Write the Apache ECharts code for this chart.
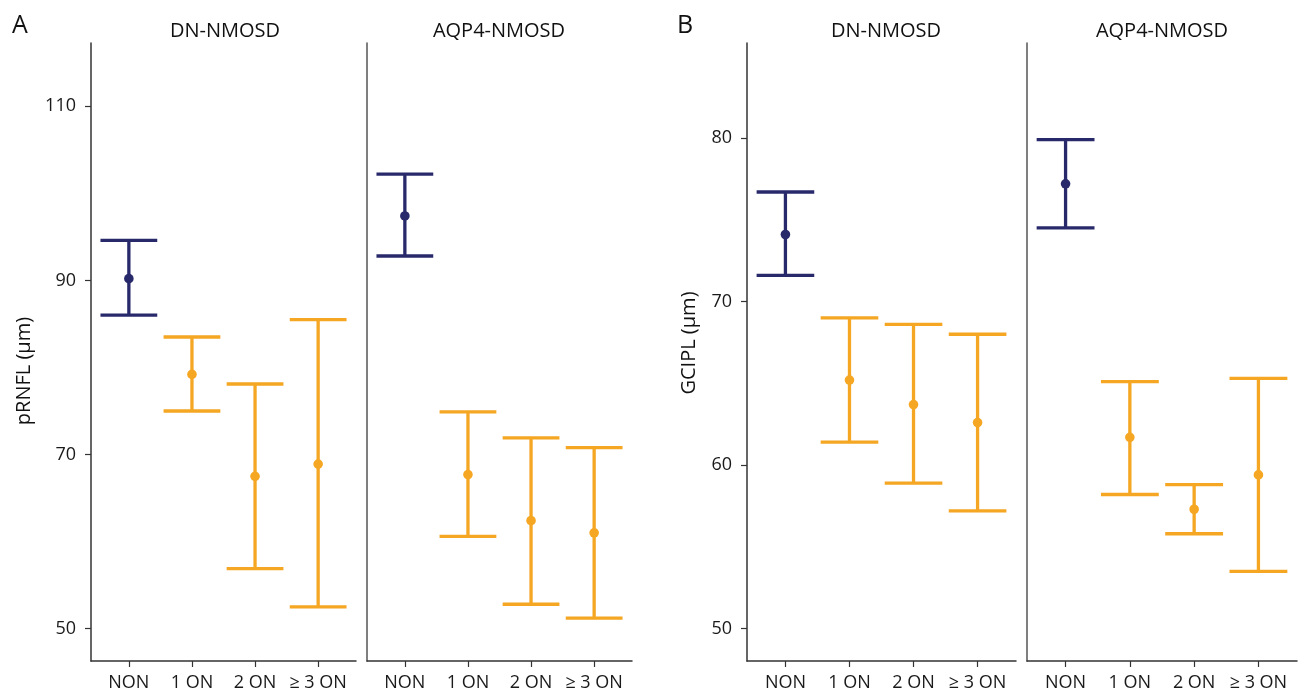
<!DOCTYPE html>
<html>
<head>
<meta charset="utf-8">
<script src="https://cdn.jsdelivr.net/npm/echarts@6/dist/echarts.min.js"></script>
<style>html,body{margin:0;padding:0;background:#fff;}#c{width:1300px;height:692px;}</style>
</head>
<body>
<div id="c"></div>
<script>
// ---- data ----
const categories = ['NON', '1 ON', '2 ON', '\u2265 3 ON'];
const facetNames = ['DN-NMOSD', 'AQP4-NMOSD'];
const yTicksA = [50, 70, 90, 110];
const yTicksB = [50, 60, 70, 80];

const A_DN_mean   = [90.2, 79.2, 67.5, 68.9];
const A_DN_lower  = [86.0, 75.0, 56.9, 52.5];
const A_DN_upper  = [94.6, 83.5, 78.1, 85.5];
const A_AQP4_mean  = [97.4, 67.7, 62.4, 61.0];
const A_AQP4_lower = [92.8, 60.6, 52.8, 51.2];
const A_AQP4_upper = [102.2, 74.9, 71.9, 70.8];

const B_DN_mean   = [74.1, 65.2, 63.7, 62.6];
const B_DN_lower  = [71.6, 61.4, 58.9, 57.2];
const B_DN_upper  = [76.7, 69.0, 68.6, 68.0];
const B_AQP4_mean  = [77.2, 61.7, 57.3, 59.4];
const B_AQP4_lower = [74.5, 58.2, 55.8, 53.5];
const B_AQP4_upper = [79.9, 65.1, 58.8, 65.3];

// ---- styling ----
const COLORS = ['#28296b', '#f5a623'];
const FONT = '"Open Sans", "Noto Sans", sans-serif';
const AXIS_COLOR = '#333';
const CAP_HALF = 0.45;

const grids = [
  {left: 91, top: 43, width: 265, height: 618},
  {left: 367, top: 43, width: 265, height: 618},
  {left: 747, top: 43, width: 269, height: 618},
  {left: 1027, top: 43, width: 270, height: 618}
];
const yRanges = [[46.28, 117.27], [46.28, 117.27], [48.02, 85.81], [48.02, 85.81]];
const yTickSets = [yTicksA, yTicksA, yTicksB, yTicksB];

function buildData(mean, lower, upper) {
  return categories.map((c, i) => [i, mean[i], lower[i], upper[i], i === 0 ? 0 : 1]);
}
const seriesData = [
  buildData(A_DN_mean, A_DN_lower, A_DN_upper),
  buildData(A_AQP4_mean, A_AQP4_lower, A_AQP4_upper),
  buildData(B_DN_mean, B_DN_lower, B_DN_upper),
  buildData(B_AQP4_mean, B_AQP4_lower, B_AQP4_upper)
];

function renderItem(params, api) {
  const x = api.value(0), m = api.value(1), lo = api.value(2), hi = api.value(3);
  const color = COLORS[api.value(4)];
  const pLo = api.coord([x, lo]);
  const pHi = api.coord([x, hi]);
  const pM = api.coord([x, m]);
  const xl = api.coord([x - CAP_HALF, lo])[0];
  const xr = api.coord([x + CAP_HALF, lo])[0];
  const st = {stroke: color, lineWidth: 3.3, fill: null};
  return {
    type: 'group',
    children: [
      {type: 'line', shape: {x1: pLo[0], y1: pLo[1], x2: pHi[0], y2: pHi[1]}, style: st},
      {type: 'line', shape: {x1: xl, y1: pHi[1], x2: xr, y2: pHi[1]}, style: st},
      {type: 'line', shape: {x1: xl, y1: pLo[1], x2: xr, y2: pLo[1]}, style: st},
      {type: 'circle', shape: {cx: pM[0], cy: pM[1], r: 4.8}, style: {fill: color}}
    ]
  };
}

const xAxes = grids.map((g, i) => ({
  type: 'value', gridIndex: i, min: -0.6, max: 3.6,
  axisLine: {show: true, onZero: false, lineStyle: {color: AXIS_COLOR, width: 1.5}},
  axisTick: {show: true, length: 6, customValues: [0, 1, 2, 3], lineStyle: {color: AXIS_COLOR, width: 1.2}},
  axisLabel: {show: true, customValues: [0, 1, 2, 3], margin: 13,
    formatter: v => categories[Math.round(v)] || '',
    fontFamily: FONT, fontSize: 18, color: '#1a1a1a'},
  splitLine: {show: false}
}));

const yAxes = grids.map((g, i) => ({
  type: 'value', gridIndex: i, min: yRanges[i][0], max: yRanges[i][1],
  axisLine: {show: true, onZero: false, lineStyle: {color: i % 2 ? '#555' : AXIS_COLOR, width: 1.5}},
  axisTick: {show: i % 2 === 0, length: 6, customValues: yTickSets[i], lineStyle: {color: AXIS_COLOR, width: 1.2}},
  axisLabel: {show: i % 2 === 0, customValues: yTickSets[i], margin: 15,
    fontFamily: FONT, fontSize: 18, color: '#1a1a1a'},
  splitLine: {show: false}
}));

const series = seriesData.map((d, i) => ({
  type: 'custom', xAxisIndex: i, yAxisIndex: i,
  renderItem: renderItem, data: d, encode: {x: 0, y: [1, 2, 3]}, clip: false
}));

function txt(x, y, text, size, rot) {
  return {type: 'text', x: x, y: y, rotation: rot || 0,
    style: {text: text, font: size + 'px ' + FONT, fill: '#111', align: 'center', verticalAlign: 'middle'}};
}
const graphics = [
  {type: 'text', x: 12, y: 13, style: {text: 'A', font: '25px ' + FONT, fill: '#111'}},
  {type: 'text', x: 677, y: 13, style: {text: 'B', font: '25px ' + FONT, fill: '#111'}},
  txt(225, 31, facetNames[0], 20),
  txt(499, 31, facetNames[1], 20),
  txt(886, 31, facetNames[0], 20),
  txt(1162, 31, facetNames[1], 20),
  txt(24, 371, 'pRNFL (\u00b5m)', 20, Math.PI / 2),
  txt(689, 343, 'GCIPL (\u00b5m)', 20, Math.PI / 2)
];

const chart = echarts.init(document.getElementById('c'), null, {renderer: 'canvas'});
chart.setOption({
  animation: false,
  backgroundColor: '#fff',
  grid: grids,
  xAxis: xAxes,
  yAxis: yAxes,
  series: series,
  graphic: graphics
});
</script>
</body>
</html>
